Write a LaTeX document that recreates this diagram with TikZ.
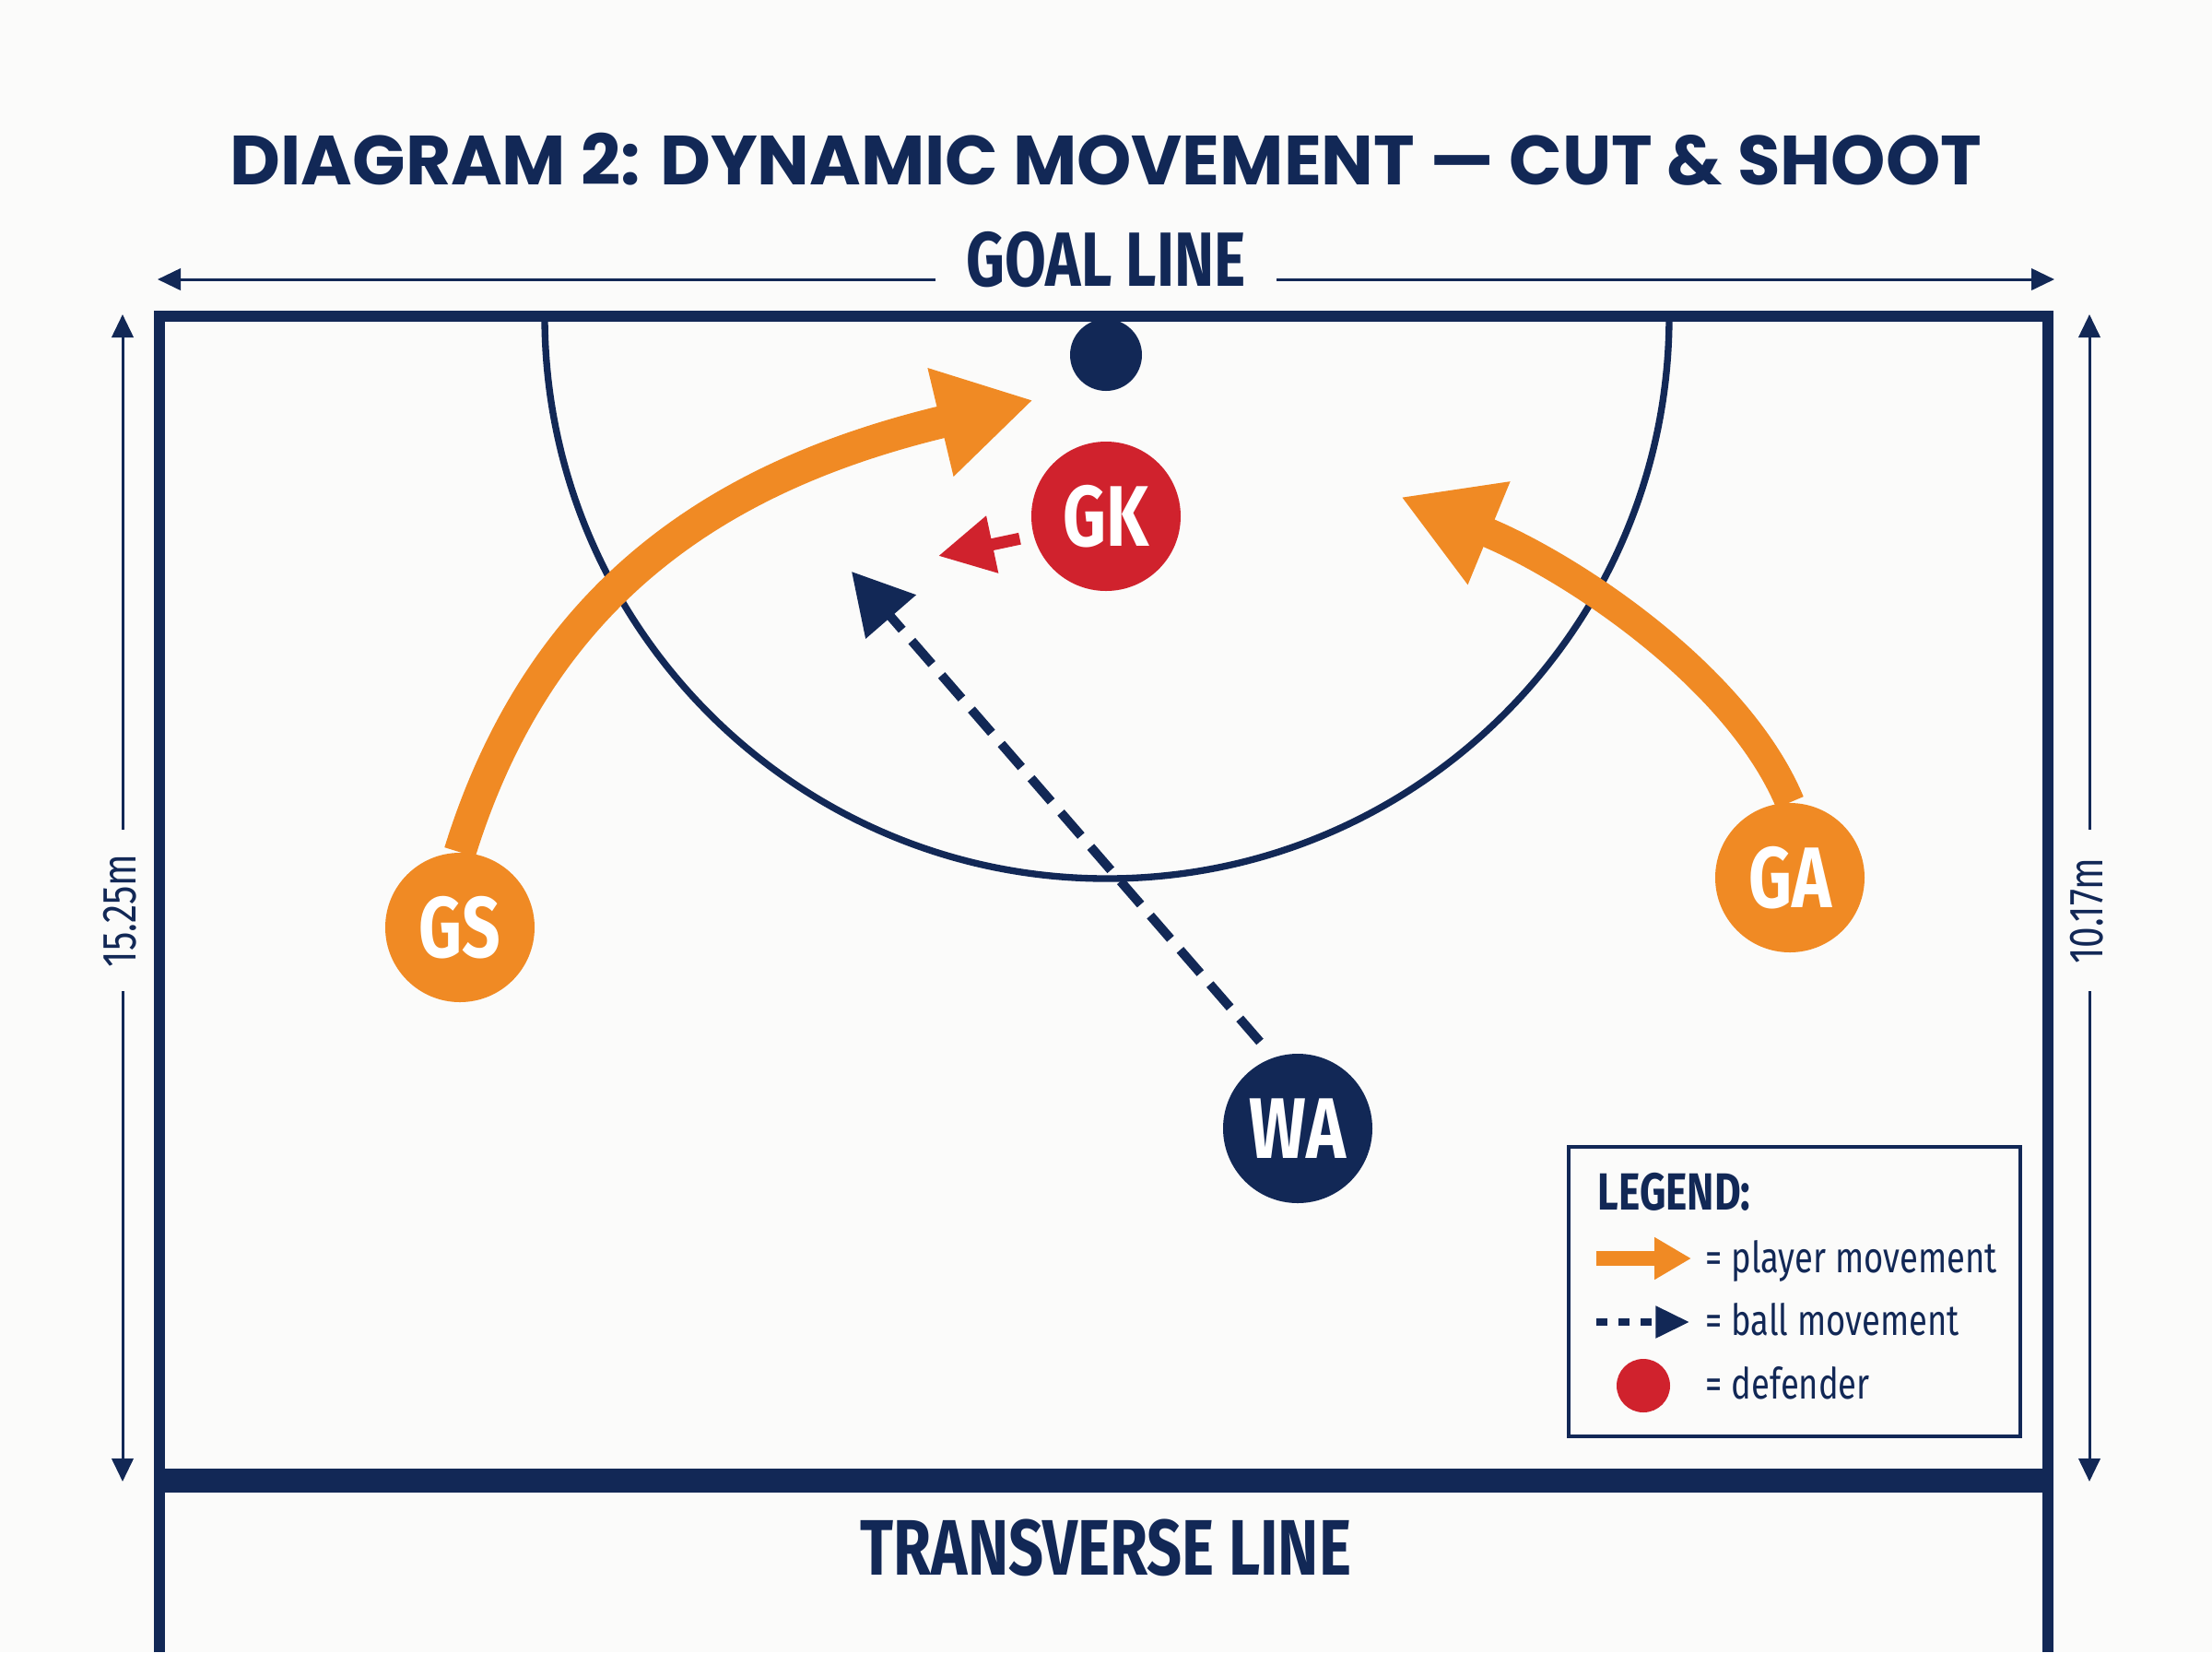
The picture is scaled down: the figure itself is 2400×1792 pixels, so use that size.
\documentclass[tikz,border=0pt]{standalone}
\usepackage{fontspec}
\usetikzlibrary{arrows.meta}
\setmainfont{Fira Sans}
\newfontfamily\titlefont{Poppins}
\newfontfamily\cond[FakeStretch=0.78]{Fira Sans}
\definecolor{navy}{RGB}{18,40,86}
\definecolor{porange}{RGB}{240,138,36}
\definecolor{dred}{RGB}{208,34,45}
\definecolor{bgcol}{RGB}{251,251,250}
\begin{document}
\begin{tikzpicture}[x=0.3pt,y=-0.3pt,
  court/.style={draw=navy, line width=3.6pt},
  dim/.style={draw=navy, line width=0.9pt, -{Triangle[length=7.5pt,width=7pt]}},
  player/.style={circle, minimum size=48.6pt, inner sep=0pt, text=white, font=\cond\bfseries\fontsize{28}{28}\selectfont},
  move/.style={draw=porange, line width=10.5pt, -{Triangle[length=31pt,width=34pt]}},
  ball/.style={draw=navy, line width=3pt, dash pattern=on 10pt off 4.8pt, -{Triangle[length=19.5pt,width=21pt]}},
  lab/.style={text=navy, font=\cond\bfseries\fontsize{25}{25}\selectfont, inner sep=0pt, anchor=base},
  legtext/.style={text=navy, font=\cond\fontsize{14}{14}\selectfont, anchor=base west, inner sep=0pt},
  dimtext/.style={text=navy, font=\cond\fontsize{15.6}{15.6}\selectfont, rotate=90, inner sep=0pt}
]
\fill[bgcol] (0,0) rectangle (2400,1792);
\useasboundingbox (0,0) rectangle (2400,1792);

% title
\node[text=navy, font=\titlefont\bfseries\fontsize{22.65}{22.65}\selectfont, anchor=base, inner sep=0pt] (title) at (1200,200) {DIAGRAM 2: DYNAMIC MOVEMENT — CUT \& SHOOT};

% goal line label and dimension
\node[lab] (goal) at (1200,310) {GOAL LINE};
\coordinate (glA) at (1015,303);
\coordinate (glB) at (171,303);
\coordinate (glC) at (1385,303);
\coordinate (glD) at (2229,303);
\draw[dim] (glA) -- (glB);
\draw[dim] (glC) -- (glD);

% court
\draw[court] (173,1792) -- (173,343) -- (2222,343) -- (2222,1792);
\draw[draw=navy, line width=7.8pt] (173,1606) -- (2222,1606);
\draw[draw=navy, line width=2.2pt] (591,343) arc[start angle=180, end angle=0, radius=610];
\node[lab, font=\cond\bfseries\fontsize{25.6}{25.6}\selectfont] (trans) at (1200,1708) {TRANSVERSE LINE};

% side dimensions
\node[dimtext] (dimL) at (130,988) {15.25m};
\coordinate (dLa) at (133,900);
\coordinate (dLb) at (133,341);
\coordinate (dLc) at (133,1075);
\coordinate (dLd) at (133,1607);
\draw[dim] (dLa) -- (dLb);
\draw[dim] (dLc) -- (dLd);
\node[dimtext] (dimR) at (2264,988) {10.17m};
\coordinate (dRa) at (2267,900);
\coordinate (dRb) at (2267,341);
\coordinate (dRc) at (2267,1075);
\coordinate (dRd) at (2267,1607);
\draw[dim] (dRa) -- (dRb);
\draw[dim] (dRc) -- (dRd);

% goal post
\node[circle, fill=navy, minimum size=23.4pt, inner sep=0pt] (post) at (1200,385) {};

% players
\node[player, fill=porange] (GS) at (499,1006) {GS};
\node[player, fill=porange] (GA) at (1942,952) {GA};
\node[player, fill=navy] (WA) at (1408,1224) {WA};
\node[player, fill=dred] (GK) at (1200,560) {GK};

% movements
\coordinate (gsTip) at (1121,434);
\draw[move] (GS.north) .. controls (587,641) and (782,515) .. (gsTip);
\coordinate (gaTip) at (1520,539);
\draw[move, line width=9.6pt] (GA.north) .. controls (1885,734) and (1705,615) .. (gaTip);
\coordinate (gkTip) at (1018,603);
\draw[draw=dred, line width=3.9pt, shorten <=4.5pt, -{Triangle[length=18pt,width=18pt]}] (GK.195) -- (gkTip);
\coordinate (ballStart) at (1367,1130);
\coordinate (ballTip) at (924,620);
\draw[ball] (ballStart) -- (ballTip);

% legend
\draw[draw=navy, line width=1pt] (1702,1244) rectangle (2192,1558);
\node[legtext, font=\cond\bfseries\fontsize{17}{17}\selectfont] (legT) at (1733,1312) {LEGEND:};
\coordinate (l1a) at (1732,1365);
\coordinate (l1b) at (1835,1365);
\draw[draw=porange, line width=4.8pt, -{Triangle[length=12pt,width=13pt]}] (l1a) -- (l1b);
\node[legtext] (leg1) at (1850,1380) {= player movement};
\coordinate (l2a) at (1732,1434);
\coordinate (l2b) at (1833,1434);
\draw[draw=navy, line width=2.2pt, dash pattern=on 3.6pt off 3.6pt, -{Triangle[length=11pt,width=10pt]}] (l2a) -- (l2b);
\node[legtext] (leg2) at (1850,1448) {= ball movement};
\node[circle, fill=dred, minimum size=17.4pt, inner sep=0pt] (legdot) at (1783,1503) {};
\node[legtext] (leg3) at (1850,1517) {= defender};
\end{tikzpicture}
\end{document}
